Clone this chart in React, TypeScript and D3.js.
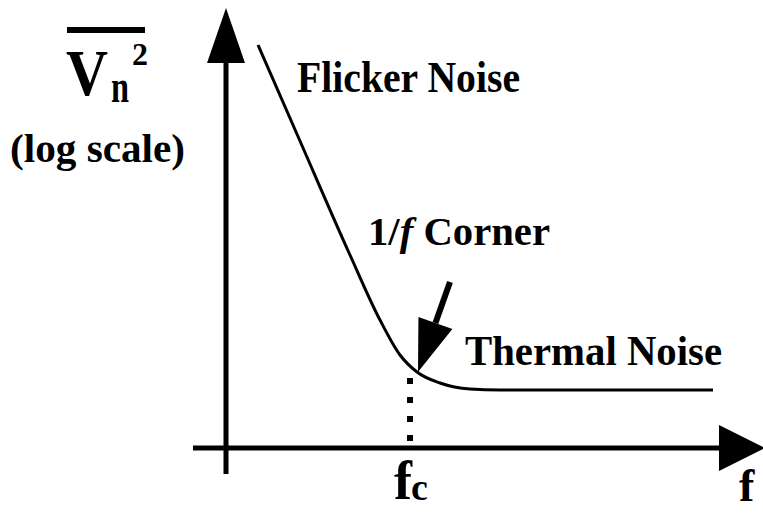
import React from "react";
import * as d3 from "d3";

// Curve data (frequency units along x, noise level units along y, relative to origin)
const freq = [32, 74, 124, 154, 174, 191, 214, 244, 274, 487];
const noise = [403, 307, 193, 128, 93, 76, 65, 59, 58, 58];

// Corner frequency & annotation
const cornerFreq = 184;
const cornerTop = 70;
const arrowFrom = [224, 166];
const arrowTo = [192, 76];

// Labels
const flickerLabel = "Flicker Noise";
const cornerLabel = "Corner";
const thermalLabel = "Thermal Noise";
const yLabel = "(log scale)";

const W = 763;
const H = 513;

export default function App() {
  const x = d3.scaleLinear().domain([0, 535]).range([226, 761]);
  const y = d3.scaleLinear().domain([0, 440]).range([448, 8]);

  const pts: [number, number][] = freq.map((f, i) => [f, noise[i]]);
  const line = d3
    .line<[number, number]>()
    .x((d) => x(d[0]))
    .y((d) => y(d[1]))
    .curve(d3.curveMonotoneX);

  // small annotation arrow geometry
  const ax0 = x(arrowFrom[0]);
  const ay0 = y(arrowFrom[1]);
  const ax1 = x(arrowTo[0]);
  const ay1 = y(arrowTo[1]);
  const dx = ax0 - ax1;
  const dy = ay0 - ay1;
  const len = Math.hypot(dx, dy);
  const ux = dx / len;
  const uy = dy / len;
  const headL = 52;
  const headW = 18;
  const bx = ax1 + ux * headL;
  const by = ay1 + uy * headL;
  const px = -uy;
  const py = ux;
  const head = `M${ax1},${ay1} L${bx + px * headW},${by + py * headW} L${bx - px * headW},${by - py * headW} Z`;

  const font = "'Liberation Serif', 'Times New Roman', serif";
  const ox = x(0);
  const oy = y(0);

  return (
    <svg
      width={W}
      height={H}
      style={{ position: "absolute", left: 0, top: 0, background: "#fff" }}
      fontFamily={font}
      fontWeight="bold"
    >
      <rect width={W} height={H} fill="#fff" />
      {/* Y axis */}
      <line x1={ox} y1={474} x2={ox} y2={60} stroke="#000" strokeWidth={5} />
      <path d={`M${ox},${y(440)} L${ox - 19},${63} L${ox + 19},${63} Z`} fill="#000" />
      {/* X axis */}
      <line x1={193} y1={oy} x2={722} y2={oy} stroke="#000" strokeWidth={5} />
      <path d={`M${x(539)},${oy} L${719},${oy - 23} L${719},${oy + 23} Z`} fill="#000" />

      {/* Noise curve */}
      <path d={line(pts) || ""} fill="none" stroke="#000" strokeWidth={3} />

      {/* Dotted corner line */}
      <line
        x1={x(cornerFreq)}
        y1={y(cornerTop)}
        x2={x(cornerFreq)}
        y2={oy}
        stroke="#000"
        strokeWidth={6}
        strokeDasharray="6 13"
      />

      {/* Annotation arrow */}
      <line x1={ax0} y1={ay0} x2={bx} y2={by} stroke="#000" strokeWidth={6} />
      <path d={head} fill="#000" />

      {/* Texts */}
      <text x={297} y={92} fontSize={44} textLength={223} lengthAdjust="spacingAndGlyphs">
        {flickerLabel}
      </text>
      <text x={368} y={245} fontSize={40} textLength={182} lengthAdjust="spacingAndGlyphs">
        1/<tspan fontStyle="italic">f</tspan> {cornerLabel}
      </text>
      <text x={465} y={365} fontSize={42} textLength={257} lengthAdjust="spacingAndGlyphs">
        {thermalLabel}
      </text>

      {/* Y label */}
      <rect x={67} y={27} width={78} height={6} fill="#000" />
      <text x={66} y={95} fontSize={66} textLength={42} lengthAdjust="spacingAndGlyphs">V</text>
      <text x={111} y={102} fontSize={46} textLength={18} lengthAdjust="spacingAndGlyphs">n</text>
      <text x={132} y={65} fontSize={32}>2</text>
      <text x={10} y={162} fontSize={40} textLength={175} lengthAdjust="spacingAndGlyphs">
        {yLabel}
      </text>

      {/* X labels */}
      <text x={394} y={499} fontSize={54}>f</text>
      <text x={411} y={500} fontSize={38}>c</text>
      <text x={739} y={501} fontSize={46}>f</text>
    </svg>
  );
}
